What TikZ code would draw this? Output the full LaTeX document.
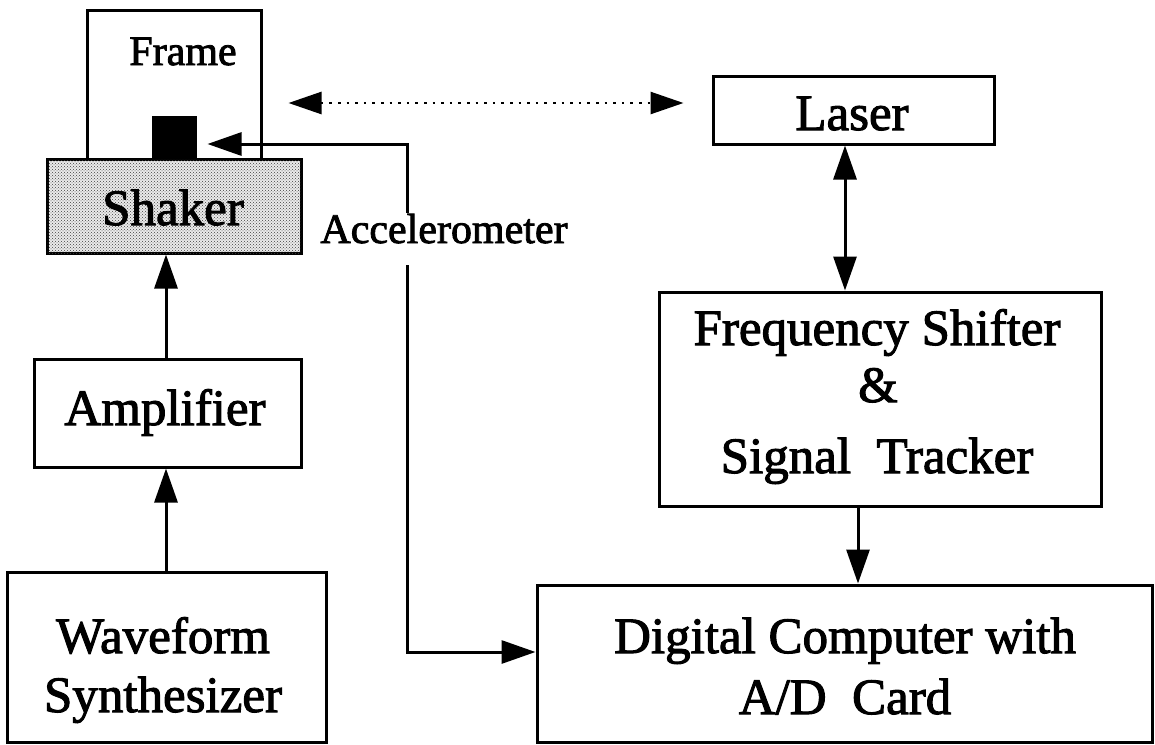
\documentclass[tikz,border=0pt]{standalone}
\usepackage{fontspec}
\setmainfont{Liberation Serif}
\newfontfamily\heavyserif{Liberation Serif}[FakeBold=2]
\usetikzlibrary{arrows.meta,patterns}
\begin{document}
\begin{tikzpicture}[x=1pt,y=-1pt,
  box/.style={draw=black, line width=3pt, rectangle, inner sep=0pt},
  big/.style={font=\heavyserif\fontsize{51}{61}\selectfont, anchor=base, inner sep=0pt},
  small/.style={font=\heavyserif\fontsize{42}{50}\selectfont, anchor=base, inner sep=0pt},
  conn/.style={line width=3pt, -{Triangle[length=34pt,width=23pt]}},
  bothconn/.style={line width=3pt, {Triangle[length=34pt,width=23pt]}-{Triangle[length=34pt,width=23pt]}},
  dotconn/.style={line width=2.6pt, dash pattern=on 2.6pt off 6pt,
                  {Triangle[length=33pt,width=22pt]}-{Triangle[length=33pt,width=22pt]}},
]
\useasboundingbox (0,0) rectangle (1155,744);

% frame, accelerometer block and shaker
\node[box, minimum width=174pt, minimum height=149pt] (frame) at (174,84.5) {};
\node[box, fill=black, minimum width=42pt, minimum height=42pt] (accel) at (174,138) {};
\node[box, fill=black!8, minimum width=254pt, minimum height=94pt] (shaker) at (174,206) {};
\fill[pattern=crosshatch dots, pattern color=black!75]
  ([xshift=1.5pt,yshift=-1.5pt]shaker.north west) rectangle ([xshift=-1.5pt,yshift=1.5pt]shaker.south east);
\node[small] (frametxt) at (183,65) {Frame};
\node[big] (shakertxt) at (173,225) {Shaker};

% remaining blocks
\node[box, minimum width=281pt, minimum height=68pt] (laser) at (853.5,110) {};
\node[box, minimum width=442pt, minimum height=214pt] (fs) at (880,399) {};
\node[box, minimum width=267pt, minimum height=108pt] (amp) at (167.5,413) {};
\node[box, minimum width=319pt, minimum height=170pt] (wf) at (166.5,657) {};
\node[box, minimum width=615pt, minimum height=157pt] (dc) at (844.5,663.5) {};

\node[big] (lasertxt) at (852,130) {Laser};
\node[big] (fstxt1) at (877,345) {Frequency Shifter};
\node[big] (fstxt2) at (878,402) {\&};
\node[big] (fstxt3) at (877,473) {Signal~~Tracker};
\node[big] (amptxt) at (165,425) {Amplifier};
\node[big] (wftxt1) at (163,653) {Waveform};
\node[big] (wftxt2) at (163,712) {Synthesizer};
\node[big] (dctxt1) at (845,653) {Digital Computer with};
\node[big] (dctxt2) at (845,714) {A/D~~Card};

% connector guides
\coordinate (ax) at (166,0);
\coordinate (lx) at (845,0);
\coordinate (fx) at (858,0);
\coordinate (dy) at (0,103);
\coordinate (bend1) at (407,144);
\coordinate (bend2) at (407,652);

\draw[conn] (amp.north -| ax) -- (shaker.south -| ax);
\draw[conn] (wf.north -| ax) -- (amp.south -| ax);
\draw[bothconn] (laser.south -| lx) -- (fs.north -| lx);
\draw[conn] (fs.south -| fx) -- (dc.north -| fx);
\draw[dotconn, shorten <=26pt, shorten >=28pt] (frame.east |- dy) -- (laser.west |- dy);
\draw[bothconn, shorten <=11pt] (accel.east |- bend1) -- (bend1) -- (bend2) -- (dc.west |- bend2);

\node[small, fill=white, text height=30pt, text depth=22pt] (acctxt) at (444,243) {Accelerometer};
\end{tikzpicture}
\end{document}
